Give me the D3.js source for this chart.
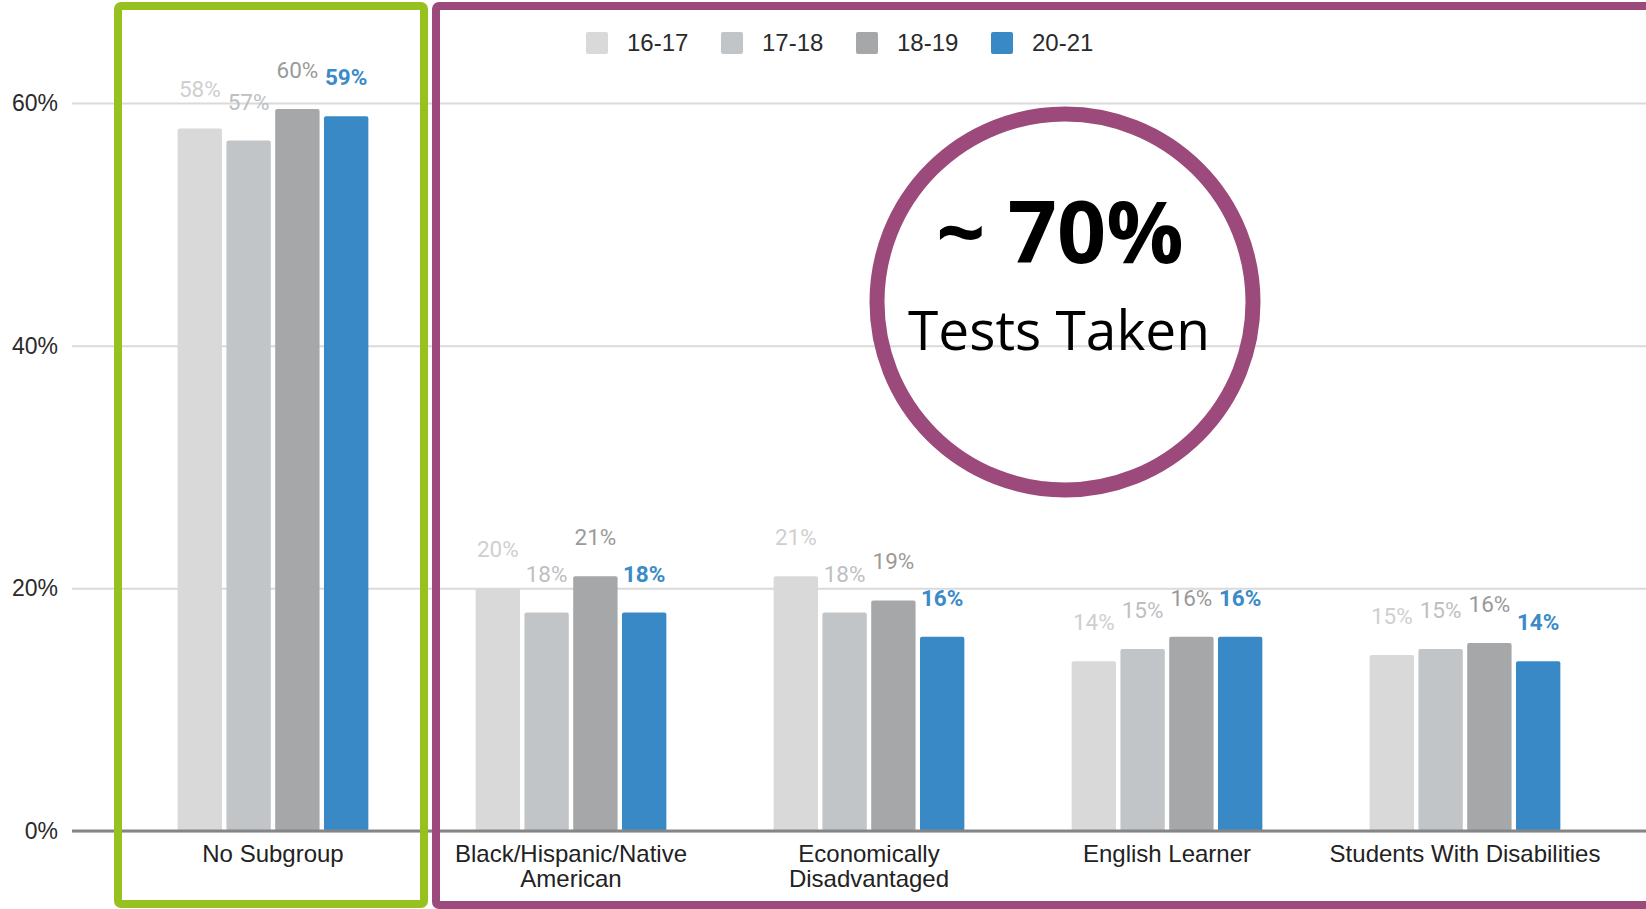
<!DOCTYPE html>
<html>
<head>
<meta charset="utf-8">
<script src="https://cdn.jsdelivr.net/npm/d3@7"></script>
<style>
  html, body { margin: 0; padding: 0; background: #fff; }
  svg { display: block; }
</style>
</head>
<body>
<div id="chart"></div>
<script>
// categories (line breaks mark the wrapped axis labels)
var categories = ["No Subgroup", "Black/Hispanic/Native\nAmerican", "Economically\nDisadvantaged", "English Learner", "Students With Disabilities"];
var seriesNames = ["16-17", "17-18", "18-19", "20-21"];

// percent of students
var values1617 = [57.9, 20.0, 21.0, 14.0, 14.5];
var values1718 = [56.9, 18.0, 18.0, 15.0, 15.0];
var values1819 = [59.5, 21.0, 19.0, 16.0, 15.5];
var values2021 = [58.9, 18.0, 16.0, 16.0, 14.0];

var yTicks = [0, 20, 40, 60];

var calloutBig = "~ 70%";
var calloutSmall = "Tests Taken";

var W = 1646, H = 909;
var barColors = ["#d9d9d9", "#c2c5c8", "#a6a7a9", "#3989c6"];
var labelColors = ["#cfcfcf", "#bdc0c3", "#9a9a9a", "#3a8bc8"];

var allValues = [values1617, values1718, values1819, values2021];

var svg = d3.select("#chart").append("svg")
    .attr("width", W)
    .attr("height", H);

var y = d3.scaleLinear().domain([0, 60]).range([831, 103]);

var x0 = d3.scaleBand()
    .domain(categories)
    .range([124, 1614])
    .paddingInner(0.36)
    .paddingOuter(0.18);

var x1 = d3.scaleBand()
    .domain(seriesNames)
    .range([0, x0.bandwidth()])
    .paddingInner(0.09);

// gridlines + y labels
var yAxis = svg.append("g")
    .attr("transform", "translate(72,0)")
    .call(d3.axisLeft(y)
      .tickValues(yTicks)
      .tickFormat(function(d){ return d + "%"; })
      .tickSize(-(W - 72))
      .tickPadding(14));
yAxis.select(".domain").remove();
yAxis.selectAll(".tick line")
    .attr("stroke", "#dadada")
    .attr("stroke-width", 2);
yAxis.selectAll(".tick text")
    .attr("fill", "#2a2a2a")
    .style("font-family", "'Liberation Sans', Arial, sans-serif")
    .style("font-size", "23px");

// bars
var groups = svg.selectAll(".grp")
    .data(categories)
    .enter().append("g")
    .attr("class", "grp")
    .attr("transform", function(d){ return "translate(" + x0(d) + ",0)"; });

groups.each(function(cat, ci){
  var g = d3.select(this);
  var rows = seriesNames.map(function(s, si){ return {s: s, si: si, v: allValues[si][ci]}; });

  g.selectAll("rect")
    .data(rows)
    .enter().append("rect")
    .attr("x", function(d){ return x1(d.s); })
    .attr("y", function(d){ return y(d.v); })
    .attr("width", x1.bandwidth())
    .attr("height", function(d){ return y(0) - y(d.v); })
    .attr("rx", 2)
    .attr("fill", function(d){ return barColors[d.si]; });

  g.selectAll("text.val")
    .data(rows)
    .enter().append("text")
    .attr("class", "val")
    .attr("x", function(d){ return x1(d.s) + x1.bandwidth() / 2; })
    .attr("y", function(d){ return y(d.v) - 31; })
    .attr("text-anchor", "middle")
    .attr("fill", function(d){ return labelColors[d.si]; })
    .style("font-family", "Roboto, sans-serif")
    .style("font-size", "22.5px")
    .style("font-weight", function(d){ return d.si === 3 ? "700" : "400"; })
    .text(function(d){ return Math.round(d.v) + "%"; });
});

// baseline
svg.append("line")
    .attr("x1", 72).attr("x2", W)
    .attr("y1", y(0)).attr("y2", y(0))
    .attr("stroke", "#858585")
    .attr("stroke-width", 3);

// category labels
var catText = svg.selectAll(".cat")
    .data(categories)
    .enter().append("text")
    .attr("class", "cat")
    .attr("x", function(d){ return x0(d) + x0.bandwidth() / 2; })
    .attr("y", 862)
    .attr("text-anchor", "middle")
    .attr("fill", "#222")
    .style("font-family", "'Liberation Sans', Arial, sans-serif")
    .style("font-size", "24px");

catText.each(function(d){
  var t = d3.select(this);
  d.split("\n").forEach(function(line, i){
    t.append("tspan")
      .attr("x", t.attr("x"))
      .attr("dy", i === 0 ? 0 : 25)
      .text(line);
  });
});

// legend
var legend = svg.append("g").attr("transform", "translate(586,32)");
var items = legend.selectAll("g")
    .data(seriesNames)
    .enter().append("g")
    .attr("transform", function(d, i){ return "translate(" + (i * 135) + ",0)"; });
items.append("rect")
    .attr("width", 22).attr("height", 22)
    .attr("rx", 2)
    .attr("fill", function(d, i){ return barColors[i]; });
items.append("text")
    .attr("x", 41)
    .attr("y", 19)
    .attr("fill", "#2a2a2a")
    .style("font-family", "'Liberation Sans', Arial, sans-serif")
    .style("font-size", "24px")
    .text(function(d){ return d; });

// highlight boxes
svg.append("rect")
    .attr("x", 118).attr("y", 6)
    .attr("width", 306).attr("height", 898)
    .attr("rx", 3)
    .attr("fill", "none")
    .attr("stroke", "#97c11f")
    .attr("stroke-width", 8);

svg.append("rect")
    .attr("x", 436).attr("y", 6)
    .attr("width", 1240).attr("height", 899)
    .attr("rx", 3)
    .attr("fill", "none")
    .attr("stroke", "#9b4a7b")
    .attr("stroke-width", 8);

// callout circle
svg.append("circle")
    .attr("cx", 1065).attr("cy", 302)
    .attr("r", 188)
    .attr("fill", "none")
    .attr("stroke", "#9b4a7b")
    .attr("stroke-width", 15);

svg.append("text")
    .attr("x", 1060).attr("y", 263)
    .attr("text-anchor", "middle")
    .attr("fill", "#000")
    .style("font-family", "'Open Sans', sans-serif")
    .style("font-weight", "700")
    .style("font-size", "86px")
    .text(calloutBig);

svg.append("text")
    .attr("x", 1059).attr("y", 350)
    .attr("text-anchor", "middle")
    .attr("fill", "#000")
    .style("font-family", "'Open Sans', sans-serif")
    .style("font-size", "55px")
    .text(calloutSmall);
</script>
</body>
</html>
